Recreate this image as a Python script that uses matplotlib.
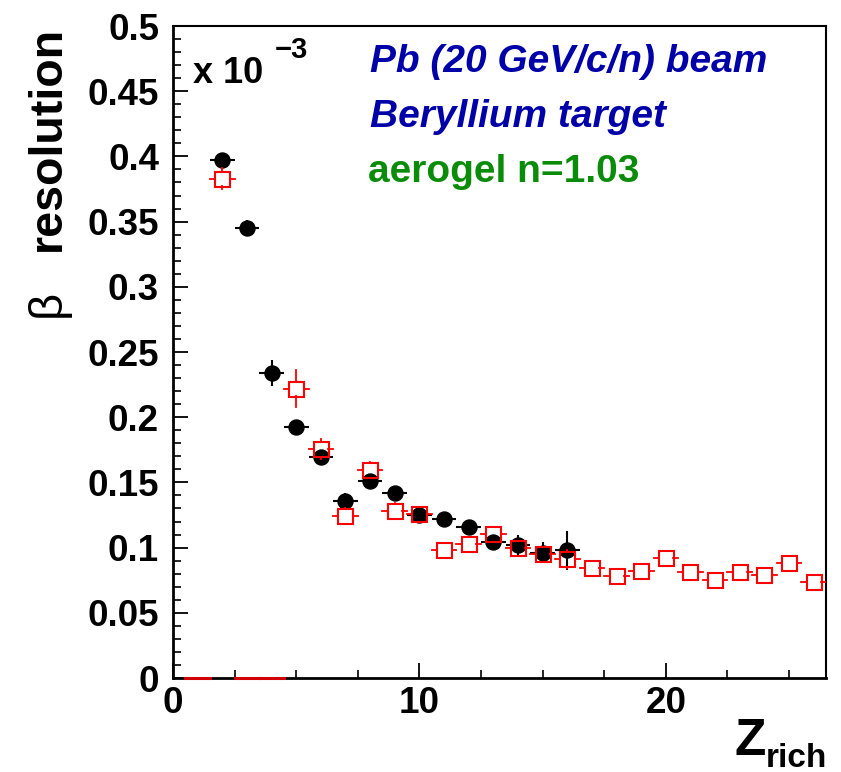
import numpy as np
import matplotlib
matplotlib.use("Agg")
import matplotlib.pyplot as plt
from matplotlib.ticker import MultipleLocator, FixedLocator, FixedFormatter

plt.rcParams['font.family'] = ['Liberation Sans', 'DejaVu Sans']

# black points (filled circles)
z_black = [2, 3, 4, 5, 6, 7, 8, 9, 10, 11, 12, 13, 14, 15, 16]
res_black = [0.397, 0.345, 0.234, 0.1925, 0.1695, 0.136, 0.151, 0.142,
             0.125, 0.122, 0.116, 0.104, 0.102, 0.096, 0.098]
err_black = [0.004, 0.006, 0.010, 0.004, 0.005, 0.006, 0.005, 0.004,
             0.004, 0.003, 0.004, 0.006, 0.008, 0.008, 0.015]

# red points (open squares), zero bins have no marker
z_red = [1, 2, 3, 4, 5, 6, 7, 8, 9, 10, 11, 12, 13, 14, 15, 16, 17, 18,
         19, 20, 21, 22, 23, 24, 25, 26]
res_red = [0.0, 0.383, 0.0, 0.0, 0.222, 0.1756, 0.124, 0.1595, 0.128, 0.126,
           0.098, 0.103, 0.1104, 0.0997, 0.095, 0.091, 0.0843, 0.078, 0.082,
           0.092, 0.081, 0.075, 0.081, 0.079, 0.088, 0.074]
err_red = [0.0, 0.008, 0.0, 0.0, 0.014, 0.008, 0.006, 0.006, 0.006, 0.004,
           0.004, 0.004, 0.005, 0.004, 0.004, 0.007, 0.002, 0.002, 0.002,
           0.002, 0.002, 0.002, 0.002, 0.002, 0.002, 0.002]

ytick_vals = [0, 0.05, 0.1, 0.15, 0.2, 0.25, 0.3, 0.35, 0.4, 0.45, 0.5]
ytick_labels = ["0", "0.05", "0.1", "0.15", "0.2", "0.25", "0.3", "0.35",
                "0.4", "0.45", "0.5"]

W, H = 841, 772
fig = plt.figure(figsize=(W / 100, H / 100), dpi=100)
ax = fig.add_axes([173 / W, 1 - 678 / H, (826 - 173) / W, (678 - 26) / H])
ax.set_xlim(0, 26.5)
ax.set_ylim(0, 0.5)

red = "#ff0000"
ms = 15  # marker size in px
hx = (ms / 2) / (ax.get_position().width * W / 26.5)
hy = (ms / 2) / (ax.get_position().height * H / 0.5)

# black series
ax.errorbar(z_black, res_black, xerr=0.5, yerr=err_black, fmt="o",
            color="black", ms=ms * 0.72, elinewidth=1.5, capsize=0, zorder=3)

# red series, error bars with gap around marker
for z, r, e in zip(z_red, res_red, err_red):
    if r == 0:
        ax.plot([z - 0.5, z + 0.5], [0, 0], color="#d00000", lw=2.2,
                zorder=10, clip_on=False)
        continue
    ax.plot([z - 0.5, z - hx], [r, r], color=red, lw=1.3, zorder=4)
    ax.plot([z + hx, z + 0.5], [r, r], color=red, lw=1.3, zorder=4)
    if e > hy:
        ax.plot([z, z], [r - e, r - hy], color=red, lw=1.3, zorder=4)
        ax.plot([z, z], [r + hy, r + e], color=red, lw=1.3, zorder=4)
zr = [z for z, r in zip(z_red, res_red) if r > 0]
rr = [r for r in res_red if r > 0]
ax.plot(zr, rr, "s", ms=ms * 0.72, mfc="none", mec=red, mew=1.5,
        ls="none", zorder=5)

# axes styling (ROOT-like)
for s in ["left", "bottom"]:
    ax.spines[s].set_linewidth(2)
for s in ["top", "right"]:
    ax.spines[s].set_linewidth(1.5)
ax.yaxis.set_major_locator(FixedLocator(ytick_vals))
ax.yaxis.set_major_formatter(FixedFormatter(ytick_labels))
ax.yaxis.set_minor_locator(MultipleLocator(0.01))
ax.xaxis.set_major_locator(MultipleLocator(10))
ax.xaxis.set_minor_locator(MultipleLocator(2.5))
ax.tick_params(which="both", direction="in", top=False, right=False)
ax.tick_params(which="major", length=11, width=1.3, labelsize=26.5)
ax.tick_params(which="minor", length=5.5, width=1.2)
ax.tick_params(axis="y", pad=10)
ax.tick_params(axis="x", pad=6)
for lab in ax.get_xticklabels() + ax.get_yticklabels():
    lab.set_fontweight("bold")

# exponent label
fig.text(193 / W, 1 - 83 / H, "x 10", fontsize=26, fontweight="bold",
         va="baseline", ha="left")
fig.text(275 / W, 1 - 58 / H, "\u22123", fontsize=21, fontweight="bold",
         va="baseline", ha="left")

# annotation texts
fig.text(370 / W, 1 - 72 / H, "Pb (20 GeV/c/n) beam", fontsize=28,
         fontweight="bold", style="italic", color="#0000a8",
         va="baseline", ha="left")
fig.text(370 / W, 1 - 127 / H, "Beryllium target", fontsize=28,
         fontweight="bold", style="italic", color="#0000a8",
         va="baseline", ha="left")
fig.text(368 / W, 1 - 182 / H, "aerogel n=1.03", fontsize=28,
         fontweight="bold", color="#0a8c0a", va="baseline", ha="left")

# axis titles (ROOT aligns them to the axis end)
fig.text(735 / W, 1 - 755 / H, "Z", fontsize=37, fontweight="bold",
         va="baseline", ha="left")
fig.text(766 / W, 1 - 767 / H, "rich", fontsize=24, fontweight="bold",
         va="baseline", ha="left")
fig.text(60 / W, 1 - 317 / H, "\u03b2", fontsize=34, rotation=90,
         rotation_mode="anchor", va="baseline", ha="left")
fig.text(60 / W, 1 - 26 / H, "resolution", fontsize=33.5, fontweight="bold",
         rotation=90, rotation_mode="anchor", va="baseline", ha="right")

fig.savefig("out.png", dpi=100)
